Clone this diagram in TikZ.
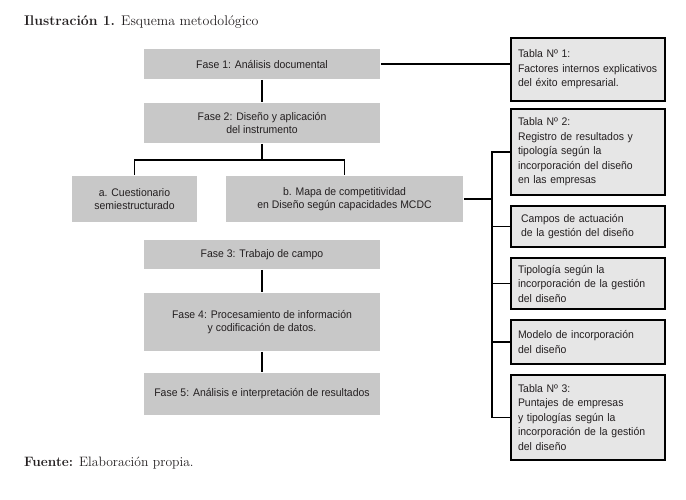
\documentclass[tikz,border=0pt]{standalone}
\usepackage{fontspec}
\newfontfamily\boxfont[FakeStretch=0.95]{Liberation Sans}
\usepackage{tikz}
\usetikzlibrary{positioning}
\definecolor{faseGray}{HTML}{C8C8C8}
\definecolor{tablaGray}{HTML}{E6E6E6}
\definecolor{txt}{HTML}{231F20}

\begin{document}
\begin{tikzpicture}[x=1pt,y=-1pt,line width=1.6pt,text=txt]
\tikzstyle{fase}=[fill=faseGray, inner sep=0pt, align=center,
    font=\boxfont\fontsize{11}{13}\selectfont]
\tikzstyle{tabla}=[draw=black, fill=tablaGray, inner xsep=7pt, inner ysep=0pt,
    text width=140pt, align=left, font=\boxfont\fontsize{11}{14.5}\selectfont]
\useasboundingbox (0,0) rectangle (686,499);

\node[anchor=base west, font=\fontsize{14}{16}\selectfont] (titulo) at (20,25)
    {\textbf{Ilustración 1.} Esquema metodológico};

\node[fase, minimum width=236pt, minimum height=30pt] (f1) at (262,64)   {Fase 1: Análisis documental};
\node[fase, minimum width=236pt, minimum height=40pt] (f2) at (262,123)  {Fase 2: Diseño y aplicación\\ del instrumento};
\node[fase, minimum width=125pt, minimum height=46pt] (qa) at (134.5,199) {a. Cuestionario\\ semiestructurado};
\node[fase, minimum width=237pt, minimum height=46pt] (mb) at (344.5,199) {b. Mapa de competitividad\\ en Diseño según capacidades MCDC};
\node[fase, minimum width=236pt, minimum height=29pt] (f3) at (262,254.5) {Fase 3: Trabajo de campo};
\node[fase, minimum width=236pt, minimum height=58pt] (f4) at (262,322)  {Fase 4: Procesamiento de información\\ y codificación de datos.};
\node[fase, minimum width=236pt, minimum height=42pt] (f5) at (262,394)  {Fase 5: Análisis e interpretación de resultados};

\node[tabla, minimum height=63pt] (t1) at (588,69.5)  {Tabla Nº 1:\\ Factores internos explicativos\\ del éxito empresarial.};
\node[tabla, minimum height=86pt] (t2) at (588,152)   {Tabla Nº 2:\\ Registro de resultados y\\ tipología según la\\ incorporación del diseño\\ en las empresas};
\node[tabla, minimum height=41pt] (c1) at (588,226.5) {\hspace*{3pt}Campos de actuación\\ \hspace*{3pt}de la gestión del diseño};
\node[tabla, minimum height=51pt] (c2) at (588,283.5) {Tipología según la\\ incorporación de la gestión\\ del diseño};
\node[tabla, minimum height=44pt] (c3) at (588,342)   {Modelo de incorporación\\ del diseño};
\node[tabla, minimum height=85pt] (t3) at (588,417.5) {Tabla Nº 3:\\ Puntajes de empresas\\ y tipologías según la\\ incorporación de la gestión\\ del diseño};

\node[anchor=base west, font=\fontsize{13.6}{16}\selectfont] (fuente) at (20,466)
    {\textbf{Fuente:} Elaboración propia.};

\coordinate (bar) at (262,160);
\coordinate (sp) at (492,0);

\draw (f1) -- (f2);
\draw (f2.south) -- (bar);
\draw (qa.north) |- (bar) -| (mb.north);
\draw (f3) -- (f4);
\draw (f4) -- (f5);
\draw (f1.east) -- (f1.east -| t1.west);
\draw (mb.east) -- (mb.east -| sp);
\draw (t2.west) -- (t2.west -| sp) -- (t3.west -| sp) -- (t3.west);
\foreach \n in {c1,c2,c3}
    \draw (\n.west) -- (\n.west -| sp);
\end{tikzpicture}
\end{document}
